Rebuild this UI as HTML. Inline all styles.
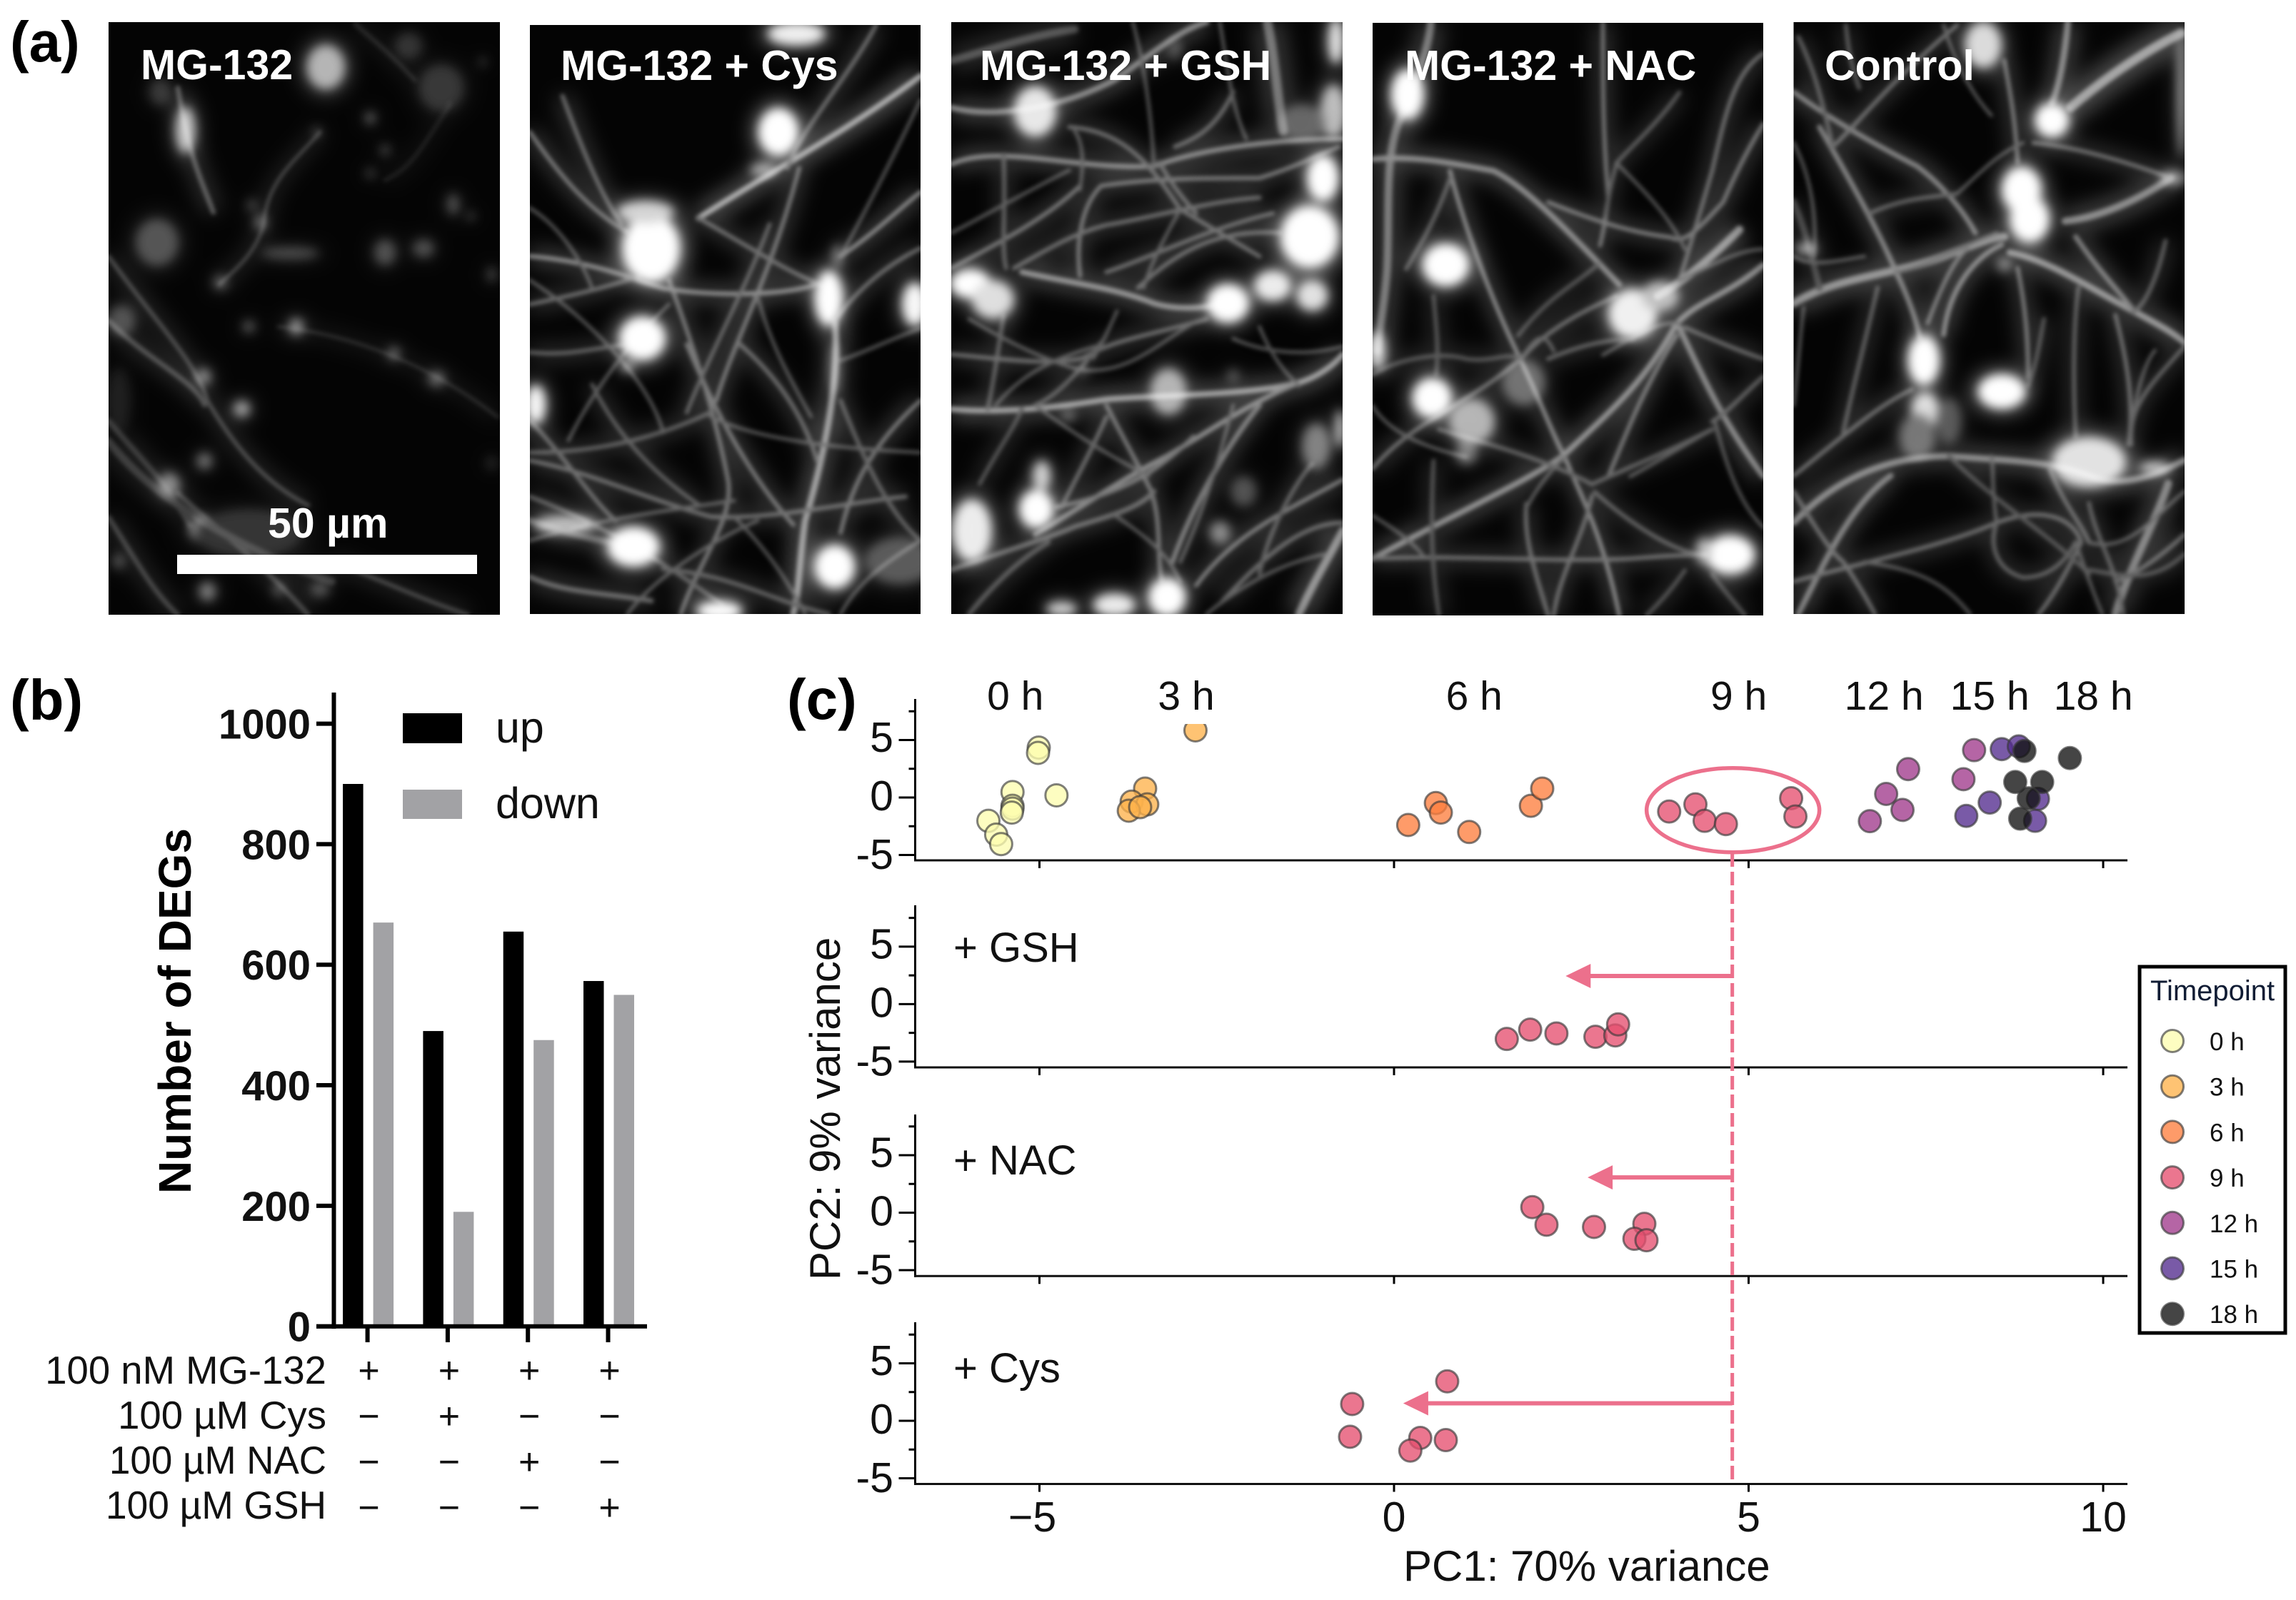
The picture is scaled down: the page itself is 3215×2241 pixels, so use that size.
<!DOCTYPE html>
<html lang="en">
<head>
<meta charset="utf-8">
<title>Neurite images, DEG counts and PCA</title>
<style>
html,body{margin:0;padding:0;background:#fff;width:3215px;height:2241px;overflow:hidden}
svg{display:block}
text{font-family:"Liberation Sans",Arial,sans-serif}
</style>
</head>
<body>
<svg id="root" xmlns="http://www.w3.org/2000/svg" width="3215" height="2241" viewBox="0 0 3215 2241">
<rect x="0" y="0" width="3215" height="2241" fill="#fff"/>
<g id="micro"></g>
<g fill="#fff" font-weight="700" font-size="59">
<text x="197" y="111">MG-132</text>
<text x="785" y="112">MG-132 + Cys</text>
<text x="1372" y="112">MG-132 + GSH</text>
<text x="1967" y="112">MG-132 + NAC</text>
<text x="2555" y="112">Control</text>
<text x="375" y="753" font-size="59">50 µm</text>
</g>
<rect x="248" y="777" width="420" height="27" fill="#fff"/>
<g font-weight="700" font-size="80" fill="#000">
<text x="14" y="86">(a)</text>
<text x="14" y="1008">(b)</text>
<text x="1102" y="1007">(c)</text>
</g>
<g id="barChart">
<text transform="translate(267,1416) rotate(-90)" text-anchor="middle" font-size="64" font-weight="700">Number of DEGs</text>
<rect x="564" y="999" width="83" height="42" fill="#000"/>
<rect x="564" y="1106" width="83" height="41" fill="#a2a2a5"/>
<text x="694" y="1040" font-size="61" fill="#111">up</text>
<text x="694" y="1146" font-size="61" fill="#111">down</text>
<g font-size="54.5" text-anchor="end" fill="#111">
<text x="457" y="1938">100 nM MG-132</text>
<text x="457" y="2001">100 µM Cys</text>
<text x="457" y="2064" textLength="304" lengthAdjust="spacingAndGlyphs">100 µM NAC</text>
<text x="457" y="2127" textLength="309" lengthAdjust="spacingAndGlyphs">100 µM GSH</text>
</g>
</g>
<g id="pcaChart">
<text x="1965" y="2214" font-size="60" fill="#111">PC1: 70% variance</text>
<text transform="translate(1176,1793) rotate(-90)" font-size="60" fill="#111">PC2: 9% variance</text>
</g>
<g id="legend">
<rect x="2996" y="1354" width="204" height="513" fill="#fff" stroke="#000" stroke-width="5"/>
<text x="3011" y="1401" font-size="40" fill="#101c34">Timepoint</text>
</g>
</svg>
<script>
// ---- Bar chart data ----
const barCategories = ['MG-132', 'MG-132 + Cys', 'MG-132 + NAC', 'MG-132 + GSH'];
const upValues = [900, 490, 655, 573];
const downValues = [670, 190, 475, 550];
const barTicks = [0, 200, 400, 600, 800, 1000];
const signRows = [
  ['+', '+', '+', '+'],
  ['−', '+', '−', '−'],
  ['−', '−', '+', '−'],
  ['−', '−', '−', '+']
];

// ---- PCA data ----
const timepoints = ['0 h', '3 h', '6 h', '9 h', '12 h', '15 h', '18 h'];
const timeColors = ['#fcfdb0', '#feb24c', '#fe7f3f', '#e64f70', '#a03a8c', '#532b8e', '#111111'];
const timeLabelPc1 = [-5.34, -2.93, 1.13, 4.86, 6.91, 8.40, 9.86];
const pc1Ticks = [-5, 0, 5, 10];
const pc1TickLabels = ['−5', '0', '5', '10'];
const pc2Ticks = [-5, 0, 5];
const pc2MinorTicks = [-2.5, 2.5, 7.5];
const pc2TickLabels = ['-5', '0', '5'];

const h0Pc1 = [-5.01, -5.02, -5.38, -5.38, -5.38, -5.39, -4.76, -5.72, -5.61, -5.54];
const h0Pc2 = [4.34, 3.88, 0.47, -0.72, -0.96, -1.31, 0.19, -2.03, -3.23, -4.05];
const h3Pc1 = [-2.80, -3.51, -3.70, -3.48, -3.74, -3.58];
const h3Pc2 = [5.84, 0.78, -0.36, -0.60, -1.15, -0.84];
const h6Pc1 = [0.20, 0.59, 0.66, 1.06, 1.93, 2.09];
const h6Pc2 = [-2.39, -0.48, -1.31, -3.00, -0.72, 0.78];
const h9Pc1 = [3.88, 4.25, 4.38, 4.68, 5.60, 5.66];
const h9Pc2 = [-1.22, -0.60, -2.03, -2.31, -0.06, -1.65];
const h12Pc1 = [7.25, 6.94, 7.17, 6.71, 8.18, 8.03];
const h12Pc2 = [2.47, 0.31, -1.08, -2.06, 4.12, 1.59];
const h15Pc1 = [8.57, 8.81, 8.40, 8.07, 9.08, 9.04];
const h15Pc2 = [4.21, 4.45, -0.44, -1.60, -0.12, -2.03];
const h18Pc1 = [8.89, 9.53, 8.76, 9.14, 8.95, 8.83];
const h18Pc2 = [4.05, 3.43, 1.35, 1.35, -0.07, -1.84];
const gshPc1 = [1.59, 1.92, 2.29, 2.84, 3.12, 3.16];
const gshPc2 = [-3.03, -2.22, -2.55, -2.84, -2.72, -1.76];
const nacPc1 = [1.95, 2.15, 2.82, 3.53, 3.39, 3.56];
const nacPc2 = [0.48, -1.05, -1.24, -0.97, -2.27, -2.40];
const cysPc1 = [0.75, -0.59, -0.62, 0.37, 0.73, 0.23];
const cysPc2 = [3.43, 1.46, -1.39, -1.49, -1.68, -2.59];
const reference9hPc1 = 4.77;
const arrowTipPc1 = [2.42, 2.73, 0.13];
const arrowPc2 = [2.45, 3.07, 1.52];

const NS = 'http://www.w3.org/2000/svg';
function node(tag, attrs, parent) {
  const el = document.createElementNS(NS, tag);
  for (const k in attrs) el.setAttribute(k, attrs[k]);
  if (parent) parent.appendChild(el);
  return el;
}

// ---- Bar chart ----
const barG = document.getElementById('barChart');
const barX0 = 514.6, barStep = 112.3, bar0Y = 1857.7, barPerUnit = 0.8441;
function barY(v) { return bar0Y - v * barPerUnit; }
function barGroupX(i) { return barX0 + i * barStep; }
barCategories.forEach(function (cat, i) {
  const up = node('rect', {x: barGroupX(i) - 34.5, y: barY(upValues[i]), width: 28.5, height: bar0Y - barY(upValues[i]), fill: '#000'}, barG);
  
  
  const down = node('rect', {x: barGroupX(i) + 8, y: barY(downValues[i]), width: 28.5, height: bar0Y - barY(downValues[i]), fill: '#a2a2a5'}, barG);
  
  
  const tick = node('line', {x1: barGroupX(i), x2: barGroupX(i), y1: bar0Y, y2: 1880, stroke: '#000', 'stroke-width': 6}, barG);
  
  
  signRows.forEach(function (row, r) {
    const s = node('text', {x: barGroupX(i) + 2, y: 1937 + r * 64, 'font-size': 52, 'text-anchor': 'middle', fill: '#111'}, barG);
    s.textContent = row[i];
    
    
  });
});
const barYAxis = node('line', {x1: 467.5, x2: 467.5, y1: 970, y2: 1861, stroke: '#000', 'stroke-width': 6}, barG);


const barXAxis = node('line', {x1: 443, x2: 906, y1: bar0Y, y2: bar0Y, stroke: '#000', 'stroke-width': 6}, barG);


barTicks.forEach(function (v) {
  const t = node('line', {x1: 443, x2: 467, y1: barY(v), y2: barY(v), stroke: '#000', 'stroke-width': 6}, barG);
  
  
  const l = node('text', {x: 435, y: barY(v) + 21, 'font-size': 58, 'font-weight': 700, 'text-anchor': 'end', fill: '#111'}, barG);
  l.textContent = String(v);
  
  
});

// ---- PCA ----
const pcaG = document.getElementById('pcaChart');
const pinkColor = '#ec708c';
const pcX0 = 1952, pcPerUnit = 99.3, pcYPerUnit = 16.1;
function pcX(v) { return pcX0 + v * pcPerUnit; }
const facets = [
  {key: 'timecourse', zero: 1117, bottom: 1205, top: 979, label: ''},
  {key: 'gsh', zero: 1406.4, bottom: 1495, top: 1268, label: '+ GSH', labelY: 1347},
  {key: 'nac', zero: 1698.5, bottom: 1787.3, top: 1561, label: '+ NAC', labelY: 1645},
  {key: 'cys', zero: 1990, bottom: 2078.5, top: 1852, label: '+ Cys', labelY: 1936}
];
function pcY(f, v) { return f.zero - v * pcYPerUnit; }

const defs = node('defs', {}, pcaG);
const topClip = node('clipPath', {id: 'topClip'}, defs);
node('rect', {x: 1281, y: 1014, width: 1700, height: 192}, topClip);

facets.forEach(function (f, fi) {
  const g = node('g', {}, pcaG);
  
  
  const ax = node('line', {x1: 1281.5, x2: 1281.5, y1: f.top, y2: f.bottom + 1.5, stroke: '#000', 'stroke-width': 3}, g);
  
  
  const bx = node('line', {x1: 1280, x2: 2979, y1: f.bottom, y2: f.bottom, stroke: '#111', 'stroke-width': 3}, g);
  
  
  pc2Ticks.forEach(function (v, i) {
    const t = node('line', {x1: 1258.5, x2: 1281, y1: pcY(f, v), y2: pcY(f, v), stroke: '#000', 'stroke-width': 3}, g);
    
    
    const l = node('text', {x: 1251, y: f.zero + 18 - v * 16.4, 'font-size': 59, 'text-anchor': 'end', fill: '#111'}, g);
    l.textContent = pc2TickLabels[i];
    
    
  });
  pc2MinorTicks.forEach(function (v) {
    const t = node('line', {x1: 1272.5, x2: 1281, y1: pcY(f, v), y2: pcY(f, v), stroke: '#000', 'stroke-width': 3}, g);
    
    
  });
  pc1Ticks.forEach(function (v, i) {
    const t = node('line', {x1: pcX(v), x2: pcX(v), y1: f.bottom, y2: f.bottom + 11, stroke: '#000', 'stroke-width': 3}, g);
    
    
    if (fi === 3) {
      const l = node('text', {x: pcX(v) - (v < 0 ? 10 : 0), y: 2145, 'font-size': 59, 'text-anchor': 'middle', fill: '#111'}, g);
      l.textContent = pc1TickLabels[i];
      
      
    }
  });
  if (f.label) {
    const lab = node('text', {x: 1335, y: f.labelY, 'font-size': 58, fill: '#111'}, g);
    lab.textContent = f.label;
    
    
  }
});

timepoints.forEach(function (tp, i) {
  const l = node('text', {x: pcX(timeLabelPc1[i]), y: 994, 'font-size': 57, 'text-anchor': 'middle', fill: '#111'}, pcaG);
  l.textContent = tp;
  
  
});

// reference annotations
const refLine = node('line', {x1: pcX(reference9hPc1), x2: pcX(reference9hPc1), y1: 1195, y2: 2078, stroke: pinkColor, 'stroke-width': 5, 'stroke-dasharray': '19 7'}, pcaG);


const ring = node('ellipse', {cx: pcX(4.78), cy: pcY(facets[0], -1.1), rx: 121, ry: 59, fill: 'none', stroke: pinkColor, 'stroke-width': 5.5}, pcaG);


[facets[1], facets[2], facets[3]].forEach(function (f, i) {
  const yy = pcY(f, arrowPc2[i]);
  const tip = pcX(arrowTipPc1[i]);
  const shaft = node('line', {x1: pcX(reference9hPc1), x2: tip + 20, y1: yy, y2: yy, stroke: pinkColor, 'stroke-width': 6}, pcaG);
  
  
  const head = node('polygon', {points: tip + ',' + yy + ' ' + (tip + 35) + ',' + (yy - 17) + ' ' + (tip + 35) + ',' + (yy + 17), fill: pinkColor}, pcaG);
  
  
});

// points
function drawPoints(xs, ys, facet, color, clipId, name) {
  const g = node('g', {}, pcaG);
  
  
  if (clipId) g.setAttribute('clip-path', 'url(#' + clipId + ')');
  xs.forEach(function (x, i) {
    const c = node('circle', {cx: pcX(x), cy: pcY(facet, ys[i]), r: 15.5, fill: color, 'fill-opacity': 0.78, stroke: '#3a3a3a', 'stroke-opacity': 0.65, 'stroke-width': 3}, g);
    
    
  });
}
drawPoints(h0Pc1, h0Pc2, facets[0], timeColors[0], 'topClip', 'series-0h');
drawPoints(h3Pc1, h3Pc2, facets[0], timeColors[1], 'topClip', 'series-3h');
drawPoints(h6Pc1, h6Pc2, facets[0], timeColors[2], 'topClip', 'series-6h');
drawPoints(h9Pc1, h9Pc2, facets[0], timeColors[3], 'topClip', 'series-9h');
drawPoints(h12Pc1, h12Pc2, facets[0], timeColors[4], 'topClip', 'series-12h');
drawPoints(h15Pc1, h15Pc2, facets[0], timeColors[5], 'topClip', 'series-15h');
drawPoints(h18Pc1, h18Pc2, facets[0], timeColors[6], 'topClip', 'series-18h');
drawPoints(gshPc1, gshPc2, facets[1], timeColors[3], null, 'series-gsh');
drawPoints(nacPc1, nacPc2, facets[2], timeColors[3], null, 'series-nac');
drawPoints(cysPc1, cysPc2, facets[3], timeColors[3], null, 'series-cys');

// legend
const legendG = document.getElementById('legend');
timepoints.forEach(function (tp, i) {
  const cy = 1458 + i * 63.7;
  const c = node('circle', {cx: 3042, cy: cy, r: 15.5, fill: timeColors[i], 'fill-opacity': 0.78, stroke: '#3a3a3a', 'stroke-opacity': 0.65, 'stroke-width': 3}, legendG);
  
  
  const t = node('text', {x: 3094, y: cy + 13, 'font-size': 35, fill: '#111'}, legendG);
  t.textContent = tp;
  
  
});

// ---- Micrographs (procedural fluorescence approximations) ----
// fibres: [path, width, brightness]; fine: faint thin neurites; somas: [cx, cy, rx, ry, brightness]
const micrographs = [
 {name: 'micrograph-mg132', x: 152, y: 31, w: 548, h: 830, vx: 183, vy: 56, vw: 661, vh: 1477,
  fine: [],
  fibres: [
   ['M300,220 C320,400 340,450 360,530', 4, .28],
   ['M540,330 C500,400 450,450 445,560 C430,640 390,680 370,710', 2, .2],
   ['M183,640 C260,800 330,900 350,1000 C390,1100 440,1200 520,1260', 3, .22],
   ['M183,800 C250,900 330,950 345,1010', 4, .24],
   ['M470,815 C560,830 700,880 840,1040', 2, .12],
   ['M183,1050 C240,1150 280,1200 320,1310', 5, .16],
   ['M560,1400 C650,1450 720,1500 790,1533', 3, .2],
   ['M183,1290 C230,1400 260,1480 300,1533', 4, .2],
   ['M300,1230 C350,1300 440,1400 520,1533', 4, .2],
   ['M183,1100 C260,1250 420,1380 560,1450', 8, .16],
   ['M700,200 C650,120 620,90 600,60', 4, .1],
   ['M760,260 C700,400 690,420 650,450', 3, .08]
  ],
  somas: [[550,168,32,55,.6],[313,325,16,58,.7],[265,605,36,58,.24],[345,1320,26,33,.55],[285,1210,18,30,.45],[345,1150,13,20,.36],[408,1020,14,20,.55],[343,940,13,20,.45],[500,815,12,20,.5],[420,815,10,14,.3],[665,882,10,16,.35],[737,945,14,18,.35],[372,705,12,18,.3],[650,630,18,32,.24],[715,620,18,22,.24],[490,632,48,16,.22],[440,555,10,20,.35],[425,512,8,12,.26],[765,510,10,26,.25],[795,540,7,9,.25],[625,295,8,14,.35],[650,375,8,12,.26],[535,330,7,12,.26],[625,433,8,12,.2],[350,1475,14,23,.4],[470,1470,10,18,.26],[540,1470,16,18,.26],[205,800,23,38,.24],[200,1400,10,18,.26],[830,685,7,18,.24],[745,220,38,58,.15],[690,115,23,33,.14],[270,230,18,33,.16],[815,155,7,13,.15],[830,1155,10,18,.1],[420,1330,90,60,.14],[200,1000,20,80,.08]]},
 {name: 'micrograph-mg132-cys', x: 742, y: 35, w: 547, h: 825, vx: 895, vy: 63, vw: 660, vh: 1470,
  fine: ['M895,700 C1000,800 1100,960 1120,1080','M1555,250 C1500,420 1450,560 1420,640','M1555,820 C1500,850 1460,880 1420,900','M1280,740 C1300,860 1340,960 1370,1040','M1200,1040 C1280,1100 1420,1120 1555,1130','M895,1350 C1000,1300 1100,1280 1240,1250','M1060,1533 C1100,1450 1200,1350 1280,1300','M1420,1533 C1450,1450 1500,1400 1555,1350','M1130,760 C1060,860 1000,980 960,1100','M1240,1290 C1300,1380 1330,1450 1360,1533','M895,520 C940,560 980,640 1000,720'],
  fibres: [
   ['M1180,545 C1300,430 1430,330 1555,190', 5, .55],
   ['M895,330 C950,450 1000,530 1060,580', 3, .36],
   ['M950,240 C990,400 1020,500 1050,560', 3, .32],
   ['M1130,700 C1180,900 1210,1050 1230,1200 C1240,1300 1180,1400 1150,1533', 3, .36],
   ['M1350,420 C1300,700 1240,850 1210,1000', 3, .36],
   ['M895,640 C980,650 1040,680 1120,720 C1200,740 1320,740 1380,710', 3.5, .42],
   ['M895,880 C960,890 1000,870 1060,860', 3, .28],
   ['M1420,640 C1480,580 1520,520 1555,480', 3, .42],
   ['M1410,800 C1420,950 1390,1150 1360,1300 C1350,1400 1350,1480 1340,1533', 6, .5],
   ['M1160,860 C1200,1000 1260,1180 1340,1310', 3, .36],
   ['M895,1150 C1000,1180 1080,1240 1200,1290 C1300,1300 1450,1250 1530,1240', 3, .32],
   ['M1555,1000 C1480,1100 1440,1200 1420,1330', 3, .36],
   ['M895,1050 C960,1150 1000,1250 1040,1300', 3, .32],
   ['M1250,860 C1320,950 1360,1050 1380,1150', 3, .32],
   ['M1120,1420 C1250,1440 1300,1500 1400,1533', 3, .28],
   ['M895,1440 C950,1480 1020,1480 1100,1500', 4, .32],
   ['M1200,1030 C1100,1100 1000,1130 895,1130', 3, .28],
   ['M1480,63 C1430,200 1350,330 1330,420', 3, .32],
   ['M1180,545 C1270,620 1330,680 1400,720', 3, .32],
   ['M1300,560 C1260,720 1200,880 1160,1030', 2.5, .3],
   ['M895,760 C960,740 1020,720 1080,690', 3, .32],
   ['M1420,1000 C1460,1150 1500,1280 1555,1350', 3, .28],
   ['M1000,960 C1040,1080 1100,1180 1180,1260', 2.5, .28],
   ['M895,1240 C1000,1300 1100,1380 1220,1510', 3, .28],
   ['M895,1300 C960,1330 1000,1350 1060,1360', 6, .26],
   ['M1410,800 C1450,720 1500,660 1555,620', 3, .32]
  ],
  somas: [[1315,330,33,58,1],[1100,620,48,85,1],[1400,745,23,68,1],[1085,845,38,53,1],[1070,1365,43,48,1],[1410,1415,33,53,1],[1545,760,20,53,.95],[905,1010,16,48,.95],[1345,85,48,28,.9],[1215,1525,38,23,1],[955,1310,53,23,.65],[1520,1400,58,58,.26],[1290,425,23,18,.55],[1060,915,13,13,.55],[1090,530,48,28,.75],[1415,640,8,28,.45],[1410,920,10,68,.38]]},
 {name: 'micrograph-mg132-gsh', x: 1332, y: 31, w: 548, h: 829, vx: 32, vy: 22, vw: 1483, vh: 1511,
  fine: ['M32,560 C150,520 300,460 480,400','M100,780 C300,860 450,900 530,910','M530,910 C700,920 800,850 950,790','M200,1000 C300,920 420,880 580,850','M1100,830 C1200,860 1350,880 1515,850','M1200,800 C1250,880 1300,920 1350,950','M660,760 C620,820 590,860 570,880','M350,1000 C450,1050 600,1120 780,1180','M650,1280 C800,1350 850,1380 900,1450','M1000,1533 C1150,1450 1300,1400 1450,1380','M1100,1000 C1050,1130 1000,1250 900,1400','M720,22 C760,120 790,250 800,390','M1050,22 C1080,150 1100,250 1150,320','M500,300 C540,340 530,400 520,450','M900,500 C850,560 800,620 760,700'],
  fibres: [
   ['M32,1010 C200,1020 400,1010 620,985 C800,975 1100,975 1300,950 C1400,940 1480,900 1515,870', 5, .5],
   ['M32,385 C200,330 500,400 800,390 C1000,340 1300,320 1515,320', 4, .42],
   ['M32,240 C200,270 450,240 650,170 C800,100 900,40 1000,22', 5, .42],
   ['M300,660 C500,690 650,700 800,740 C900,760 1000,750 1080,740', 5, .45],
   ['M520,670 C500,560 540,480 600,440 C800,420 1000,420 1200,420 C1300,400 1400,370 1500,340', 3, .36],
   ['M32,650 C200,590 400,520 520,440', 3, .36],
   ['M270,650 C400,600 500,560 620,540 C800,520 1000,480 1200,470', 3, .32],
   ['M620,660 C800,620 1000,550 1250,510', 3, .32],
   ['M740,700 C900,600 1050,550 1280,560', 3, .32],
   ['M230,360 C240,500 220,600 240,650', 3, .28],
   ['M480,290 C700,300 800,400 900,500 C1000,540 1100,580 1200,620', 3, .32],
   ['M230,770 C210,860 190,950 170,1010', 3, .28],
   ['M32,870 C200,880 400,900 530,880 C650,830 800,820 1000,780', 3, .32],
   ['M600,840 C500,930 420,980 350,1000', 3, .28],
   ['M620,1030 C560,1120 510,1180 450,1260', 3, .32],
   ['M620,1000 C680,1080 740,1150 790,1220 C830,1300 810,1380 830,1450', 3, .36],
   ['M350,1330 C500,1270 700,1180 850,1130 C1000,1070 1150,1000 1320,950', 4, .42],
   ['M430,1260 C650,1230 800,1180 950,1080', 3, .36],
   ['M32,1420 C200,1380 400,1340 500,1310 C650,1280 750,1260 800,1220', 4, .32],
   ['M870,1400 C950,1250 1080,1100 1200,1000', 4, .38],
   ['M960,1460 C1100,1330 1300,1270 1515,1190', 3, .38],
   ['M1060,1500 C1200,1400 1350,1300 1515,1300', 3, .32],
   ['M1200,1430 C1230,1330 1330,1200 1400,1150', 3, .28],
   ['M1350,1533 C1420,1430 1480,1370 1515,1320', 8, .45],
   ['M140,1200 C220,1100 260,1070 300,1010', 3, .24],
   ['M1230,22 C1260,120 1270,230 1290,300', 10, .34],
   ['M820,380 C880,450 920,480 960,510', 3, .32],
   ['M1100,200 C1040,290 960,320 880,340', 3, .32],
   ['M32,120 C150,100 300,60 500,40', 8, .24],
   ['M100,1533 C200,1450 300,1390 400,1350', 4, .26]
  ],
  somas: [[105,690,75,36,1],[190,730,78,48,.8],[350,250,78,63,.85],[1080,740,78,48,1],[1250,695,68,38,.88],[1400,720,58,38,.82],[1390,570,108,78,1],[1440,420,58,58,1],[1490,70,28,58,.85],[1480,250,48,68,.65],[1360,280,88,48,.3],[855,965,68,58,.6],[355,1265,63,48,1],[375,1180,33,38,.75],[110,1320,73,78,.88],[850,1490,68,48,1],[650,1510,78,28,.88],[450,1520,58,18,.75],[1415,1105,53,58,.4],[1505,1060,13,48,.88],[1050,1325,38,28,.45],[1140,1220,48,38,.24],[1100,925,23,18,.24],[530,910,18,12,.35],[475,1025,28,18,.3],[880,90,28,28,.24]]},
 {name: 'micrograph-mg132-nac', x: 1922, y: 32, w: 547, h: 830, vx: 57, vy: 22, vw: 1430, vh: 1513,
  fine: ['M57,1000 C100,1050 200,1100 400,1130','M1000,1180 C1080,1150 1150,1120 1300,1060','M600,880 C650,830 680,800 720,860','M1180,790 C1100,780 1000,830 900,870','M760,1130 C700,1170 650,1220 620,1260','M1487,1310 C1400,1250 1350,1150 1310,1040','M57,1280 C100,1300 180,1330 240,1380','M950,380 C1050,450 1150,520 1200,600','M1180,680 C1300,640 1400,600 1487,600'],
  fibres: [
   ['M270,22 C260,100 200,200 150,280 C100,380 120,500 110,650 C100,750 80,800 75,860', 8, .36],
   ['M60,370 C200,360 350,380 500,400 C620,440 780,560 960,690', 5, .42],
   ['M340,400 C400,560 500,740 590,870 C680,1000 720,1080 760,1130 C820,1230 900,1330 960,1535', 3, .42],
   ['M340,420 C290,520 240,580 180,650', 3, .28],
   ['M900,22 C900,200 900,300 920,470 C910,520 900,560 890,590', 3, .34],
   ['M1180,200 C1100,280 1000,340 950,380 C930,430 920,470 910,510', 3, .26],
   ['M1487,100 C1380,150 1350,250 1300,400 C1250,520 1220,590 1180,680', 3, .32],
   ['M1487,280 C1400,380 1360,450 1340,480 C1260,540 1200,590 1150,570 C1050,560 950,550 700,480', 3, .36],
   ['M1487,640 C1350,720 1250,730 1170,790 C1050,940 950,1000 750,1130 C600,1200 400,1260 57,1390', 5, .44],
   ['M1400,550 C1300,620 1200,680 1100,720', 8, .48],
   ['M1180,800 C1280,950 1350,1050 1487,1180', 5, .42],
   ['M1170,820 C1050,950 980,1080 920,1180', 3, .36],
   ['M57,1390 C400,1380 700,1400 1000,1390 C1100,1385 1180,1380 1280,1380', 3, .32],
   ['M57,1160 C200,1040 400,1000 600,880 C700,800 850,750 950,720', 3, .32],
   ['M1300,1060 C1100,1130 950,1170 860,1200 C700,1140 500,1100 300,1060', 3, .28],
   ['M1487,925 C1400,980 1350,1020 1300,1040', 3, .28],
   ['M620,1250 C610,1330 640,1400 700,1535', 3, .32],
   ['M860,1230 C820,1350 740,1430 720,1535', 3, .32],
   ['M870,1220 C1000,1300 1150,1370 1260,1380', 3, .28],
   ['M280,1140 C270,1280 270,1400 300,1535', 3, .24],
   ['M1200,1420 C1150,1470 1110,1500 1060,1535', 3, .24],
   ['M1300,1430 C1340,1470 1380,1500 1420,1535', 3, .24],
   ['M57,920 C150,880 300,860 400,880 C500,890 550,860 600,880', 3, .24],
   ['M700,880 C800,850 900,830 1010,830', 3, .28],
   ['M590,820 C700,720 800,690 880,640', 3, .24],
   ['M280,720 C290,800 300,850 290,920', 3, .24],
   ['M1200,800 C1300,830 1400,860 1487,880', 3, .3]
  ],
  somas: [[185,205,58,63,1],[325,640,83,53,1],[275,980,70,50,1],[420,1040,83,58,.6],[1010,765,88,63,.9],[1110,720,68,38,.65],[610,940,78,58,.34],[75,860,28,48,.8],[1365,1380,88,48,1],[1270,1370,28,33,.65],[400,1120,38,28,.4]]},
 {name: 'micrograph-control', x: 2511.5, y: 31, w: 547.5, h: 829, vx: 32, vy: 22, vw: 1480, vh: 1511,
  fine: ['M32,330 C100,420 120,520 110,620','M600,30 C640,120 700,200 780,260','M650,460 C750,400 800,360 900,330','M32,620 C100,650 200,630 300,620','M420,660 C520,650 650,600 800,560','M1300,1100 C1320,1000 1350,900 1400,860','M1150,1350 C1300,1380 1400,1280 1512,1220','M300,1400 C500,1420 600,1450 700,1533','M800,1300 C780,1200 790,1150 780,1130','M1100,1350 C1150,1450 1180,1500 1200,1533','M32,1000 C50,900 60,800 70,750'],
  fibres: [
   ['M1080,240 C1200,170 1350,100 1500,50', 10, .5],
   ['M32,740 C200,670 400,670 600,620 C750,580 800,570 830,570', 8, .45],
   ['M32,200 C150,260 300,320 500,390 C600,440 680,510 720,560', 4, .4],
   ['M130,290 C250,430 350,550 420,660 C470,730 500,790 510,830', 4, .4],
   ['M850,610 C1000,630 1150,700 1320,760 C1400,790 1460,810 1512,840', 6, .46],
   ['M1100,570 C1200,670 1280,720 1320,760', 4, .38],
   ['M1060,530 C1200,520 1350,470 1460,420', 7, .42],
   ['M940,330 C1100,340 1300,380 1460,420', 3, .32],
   ['M1070,22 C1060,100 1040,180 1010,230', 6, .42],
   ['M830,120 C850,200 870,260 880,380', 3, .36],
   ['M600,820 C620,700 720,620 820,590', 4, .42],
   ['M540,790 C600,680 650,620 690,600', 3, .36],
   ['M880,650 C910,750 920,830 920,930', 3, .36],
   ['M1110,700 C1090,800 1090,950 1100,1080', 3, .28],
   ['M980,780 C960,850 950,900 920,950', 3, .24],
   ['M1250,770 C1300,900 1320,1000 1300,1100', 3, .32],
   ['M1440,580 C1400,700 1350,750 1320,760', 3, .28],
   ['M1512,850 C1380,950 1300,1000 1310,1100', 3, .28],
   ['M350,700 C280,900 240,1000 220,1070', 3, .28],
   ['M32,1180 C200,1090 350,1000 480,960', 3, .32],
   ['M32,1300 C200,1180 400,1130 620,1130 C800,1140 1000,1140 1150,1180 C1300,1220 1450,1160 1512,1140', 6, .42],
   ['M50,1533 C150,1400 250,1250 400,1180', 5, .4],
   ['M32,1220 C120,1320 180,1380 220,1400 C300,1480 320,1510 340,1533', 3, .32],
   ['M32,1450 C300,1400 600,1360 800,1300 C1000,1250 1100,1300 1120,1350 C1050,1450 1000,1500 960,1533', 3, .32],
   ['M800,1300 C770,1360 800,1420 900,1440 C1000,1440 1060,1400 1100,1350', 3, .28],
   ['M1250,1533 C1300,1420 1400,1300 1450,1200', 8, .4],
   ['M1512,1330 C1400,1400 1300,1440 1250,1450', 3, .32],
   ['M1000,1160 C1050,1250 1120,1300 1150,1350', 3, .32],
   ['M180,340 C250,300 400,170 650,30', 3, .32],
   ['M320,510 C450,470 550,470 650,460', 3, .28],
   ['M50,60 C100,130 130,190 180,340', 3, .28],
   ['M1512,1380 C1400,1450 1300,1440 1150,1420', 3, .24],
   ['M1150,1250 C1180,1350 1250,1400 1280,1533', 3, .28],
   ['M620,1130 C800,1250 1000,1330 1150,1430', 3, .24],
   ['M32,480 C80,560 100,620 130,700', 6, .2],
   ['M230,30 C240,100 250,130 280,190', 3, .26]
  ],
  somas: [[750,80,68,58,.78],[1010,272,63,43,1],[895,450,73,58,1],[925,525,73,58,1],[525,885,58,63,1],[530,1015,53,48,.82],[820,965,88,43,1],[1150,1145,138,63,.82],[1400,1160,58,16,.7],[80,600,38,13,.65],[830,640,28,18,.45],[1465,420,48,18,.55],[1500,200,13,168,.65],[500,1080,68,58,.36],[620,1040,48,58,.26]]}
];
const microG = document.getElementById('micro');
function grayOf(b) { const n = Math.min(255, Math.round(255 * b)); return 'rgb(' + n + ',' + n + ',' + n + ')'; }
micrographs.forEach(function (m, mi) {
  const sx = m.vw / m.w, sy = m.vh / m.h;
  const s = node('svg', {x: m.x, y: m.y, width: m.w, height: m.h, viewBox: m.vx + ' ' + m.vy + ' ' + m.vw + ' ' + m.vh, preserveAspectRatio: 'none'}, microG);
  
  
  const d = node('defs', {}, s);
  const fSoft = node('filter', {id: 'fibreBlur' + mi, filterUnits: 'userSpaceOnUse', x: m.vx, y: m.vy, width: m.vw, height: m.vh, 'color-interpolation-filters': 'sRGB'}, d);
  node('feGaussianBlur', {stdDeviation: (3 * sx) + ' ' + (3 * sy)}, fSoft);
  const fGlow = node('filter', {id: 'fibreGlow' + mi, filterUnits: 'userSpaceOnUse', x: m.vx, y: m.vy, width: m.vw, height: m.vh, 'color-interpolation-filters': 'sRGB'}, d);
  node('feGaussianBlur', {stdDeviation: (14 * sx) + ' ' + (14 * sy)}, fGlow);
  const fBlob = node('filter', {id: 'somaBlur' + mi, filterUnits: 'userSpaceOnUse', x: m.vx, y: m.vy, width: m.vw, height: m.vh, 'color-interpolation-filters': 'sRGB'}, d);
  node('feGaussianBlur', {stdDeviation: (7 * sx) + ' ' + (7 * sy)}, fBlob);
  const bg = node('rect', {x: m.vx, y: m.vy, width: m.vw, height: m.vh, fill: '#040404'}, s);
  
  
  const glow = node('g', {filter: 'url(#fibreGlow' + mi + ')', fill: 'none', style: 'mix-blend-mode:screen'}, s);
  
  
  m.fibres.forEach(function (f) {
    const p = node('path', {d: f[0], stroke: grayOf(f[2] * 0.55), 'stroke-width': f[1] * 3 + 14, 'vector-effect': 'non-scaling-stroke'}, glow);
    
    
  });
  m.somas.forEach(function (o) {
    const e = node('ellipse', {cx: o[0], cy: o[1], rx: o[2] * 1.3, ry: o[3] * 1.3, fill: grayOf(o[4] * 0.45)}, glow);
    
    
  });
  const fg = node('g', {filter: 'url(#fibreBlur' + mi + ')', fill: 'none', style: 'mix-blend-mode:screen'}, s);
  
  
  m.fibres.forEach(function (f) {
    const p = node('path', {d: f[0], stroke: grayOf(f[2] * 1.05), 'stroke-width': f[1] + 3, 'vector-effect': 'non-scaling-stroke', 'stroke-linecap': 'round'}, fg);
    
    
  });
  m.fine.forEach(function (path) {
    const p = node('path', {d: path, stroke: grayOf(0.3), 'stroke-width': 5, 'vector-effect': 'non-scaling-stroke', 'stroke-linecap': 'round'}, fg);
    
    
  });
  const bgs = node('g', {filter: 'url(#somaBlur' + mi + ')', style: 'mix-blend-mode:screen'}, s);
  
  
  m.somas.forEach(function (o) {
    const e = node('ellipse', {cx: o[0], cy: o[1], rx: o[2], ry: o[3], fill: grayOf(o[4])}, bgs);
    
    
  });
});
</script>
</body>
</html>
